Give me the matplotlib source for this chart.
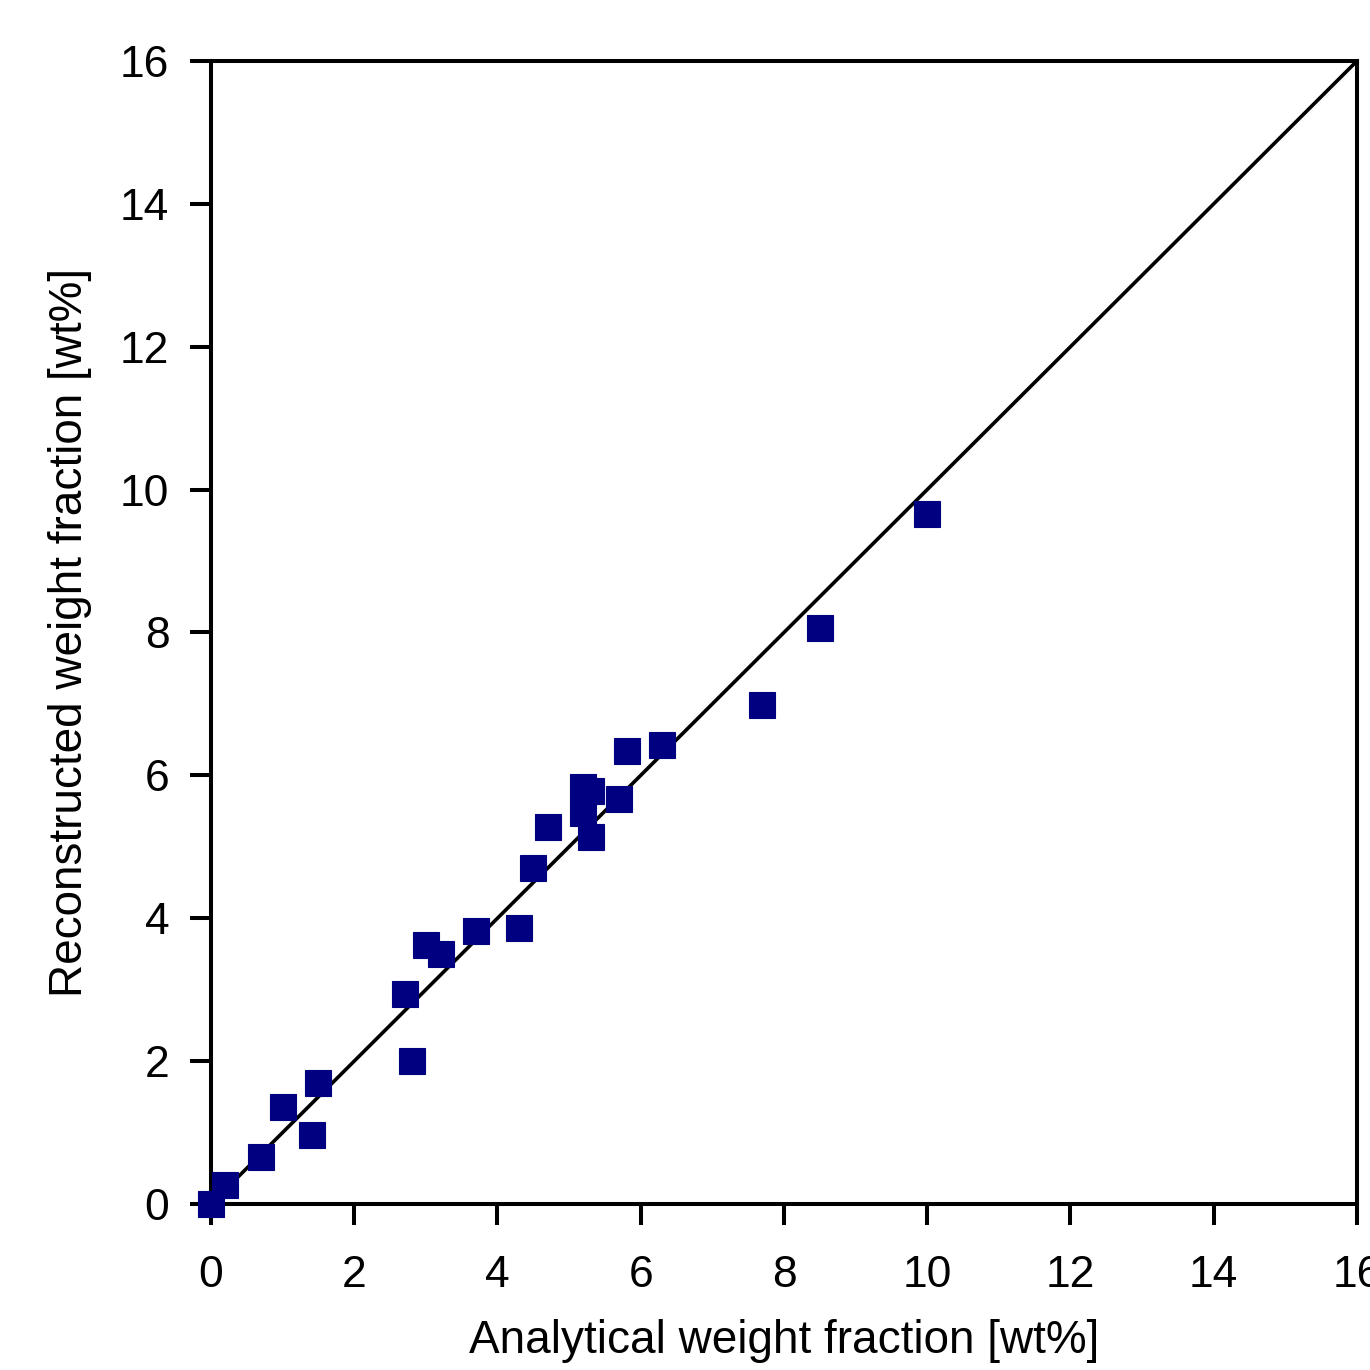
import matplotlib
matplotlib.use('Agg')
import matplotlib.pyplot as plt

plt.rcParams['font.family'] = ['Liberation Sans', 'DejaVu Sans']

# measured points (analytical vs reconstructed, wt%)
analytical = [0.0, 0.2, 0.70, 1.0, 1.41, 1.50, 2.81, 2.71, 3.0, 3.21, 3.70,
              4.30, 4.50, 4.71, 5.20, 5.20, 5.30, 5.30, 5.70, 5.81, 6.30,
              7.69, 8.50, 10.0]
reconstructed = [0.0, 0.26, 0.66, 1.36, 0.97, 1.70, 2.00, 2.94, 3.62, 3.50,
                 3.82, 3.86, 4.70, 5.28, 5.47, 5.84, 5.78, 5.13, 5.67, 6.34,
                 6.42, 6.99, 8.06, 9.66]
ticks = [0, 2, 4, 6, 8, 10, 12, 14, 16]

fig = plt.figure(figsize=(13.7, 13.7), dpi=100)
ax = fig.add_axes([0.154, 0.1212, 0.8365, 0.8343])

ax.plot([0, 16], [0, 16], color='black', lw=2.6, zorder=2)
ax.plot(analytical, reconstructed, 's', color='#000080', markersize=18.5,
        markeredgecolor='#000080', markeredgewidth=0.8, linestyle='none',
        zorder=3, clip_on=False)

ax.set_xlim(0, 16)
ax.set_ylim(0, 16)
ax.set_xticks(ticks)
ax.set_yticks(ticks)
for s in ax.spines.values():
    s.set_linewidth(2.9)
ax.tick_params(direction='out', length=15, width=2.9, labelsize=32)
ax.tick_params(axis='x', pad=22)
ax.tick_params(axis='y', pad=15)

ax.set_xlabel('Analytical weight fraction [wt%]', fontsize=33, labelpad=16)
ax.set_ylabel('Reconstructed weight fraction [wt%]', fontsize=33, labelpad=20)

fig.savefig('out.png', dpi=100)
